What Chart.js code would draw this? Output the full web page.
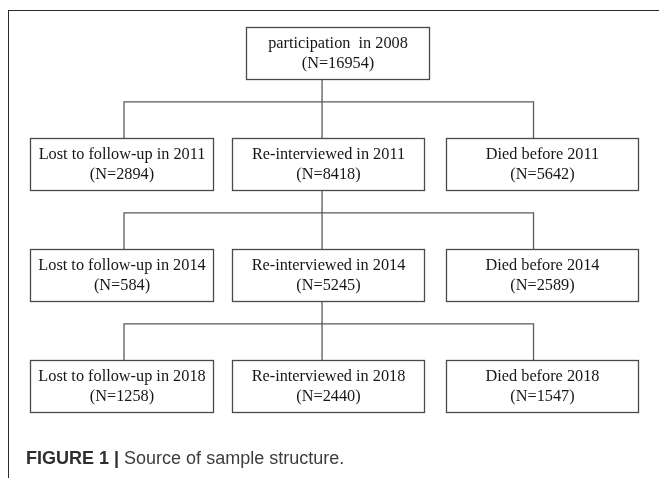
<!DOCTYPE html>
<html>
<head>
<meta charset="utf-8">
<script src="https://cdn.jsdelivr.net/npm/chart.js@4.4.1/dist/chart.umd.min.js"></script>
<style>
  html, body { margin: 0; padding: 0; background: #fff; }
  #wrap { position: relative; width: 659px; height: 478px; overflow: hidden; background: #fff; }
  #frame { position: absolute; left: 8px; top: 10px; width: 700px; height: 520px;
           border-left: 1.5px solid #2b2b2b; border-top: 1.5px solid #2b2b2b; box-sizing: border-box; }
  #c { position: absolute; left: 0; top: 0; }
  #caption { position: absolute; left: 26px; top: 449px; font-family: 'Liberation Sans', Arial, sans-serif;
             font-size: 18px; line-height: 18px; color: #3c3c3c; white-space: nowrap; }
  #caption b { color: #2e2e2e; }
</style>
</head>
<body>
<div id="wrap">
  <div id="frame"></div>
  <canvas id="c" width="659" height="478"></canvas>
  <div id="caption"><b>FIGURE 1</b> <b>|</b> Source of sample structure.</div>
</div>
<script>
// ---- data ----
const waves = ['2008', '2011', '2014', '2018'];
const reinterviewedN = [16954, 8418, 5245, 2440];
const lostN = [null, 2894, 584, 1258];
const diedN = [null, 5642, 2589, 1547];
const topLabel = 'participation  in 2008';
const lostLabel = 'Lost to follow-up in ';
const reLabel = 'Re-interviewed in ';
const diedLabel = 'Died before ';

// ---- layout (grid units: column 0..2, level 0..3) ----
const colShape = [ {shift: 0, half: 0.436}, {shift: -0.0167, half: 0.457}, {shift: 0.002, half: 0.457} ];
const topShape = {shift: 0.0286, half: 0.438};
const boxHalfH = 0.232;
const trunkX = 0.955, leftDropX = 0.012, rightDropX = 1.962, busOffset = 0.44;

// build boxes from data
const boxes = [];
boxes.push({col: 1, level: 0, shape: topShape, lines: [topLabel, '(N=' + reinterviewedN[0] + ')']});
for (let l = 1; l < waves.length; l++) {
  boxes.push({col: 0, level: l, shape: colShape[0], lines: [lostLabel + waves[l], '(N=' + lostN[l] + ')']});
  boxes.push({col: 1, level: l, shape: colShape[1], lines: [reLabel + waves[l], '(N=' + reinterviewedN[l] + ')']});
  boxes.push({col: 2, level: l, shape: colShape[2], lines: [diedLabel + waves[l], '(N=' + diedN[l] + ')']});
}

// connectors as line datasets
const lineStyle = {showLine: true, borderColor: '#5a5a5a', borderWidth: 1.3, pointRadius: 0, fill: false, tension: 0};
const datasets = [];
for (let l = 0; l < waves.length - 1; l++) {
  datasets.push(Object.assign({data: [{x: trunkX, y: l + boxHalfH}, {x: trunkX, y: l + 1 - boxHalfH}]}, lineStyle));
  datasets.push(Object.assign({data: [
    {x: leftDropX, y: l + 1 - boxHalfH}, {x: leftDropX, y: l + busOffset},
    {x: rightDropX, y: l + busOffset}, {x: rightDropX, y: l + 1 - boxHalfH}]}, lineStyle));
}

const boxPlugin = {
  id: 'boxes',
  afterDatasetsDraw(chart) {
    const {ctx, scales: {x, y}} = chart;
    ctx.save();
    boxes.forEach(b => {
      const cx = b.col + b.shape.shift;
      const x0 = Math.round(x.getPixelForValue(cx - b.shape.half)) + 0.5;
      const x1 = Math.round(x.getPixelForValue(cx + b.shape.half)) + 0.5;
      const y0 = Math.round(y.getPixelForValue(b.level - boxHalfH)) + 0.5;
      const y1 = Math.round(y.getPixelForValue(b.level + boxHalfH)) + 0.5;
      ctx.fillStyle = '#ffffff';
      ctx.fillRect(x0, y0, x1 - x0, y1 - y0);
      ctx.strokeStyle = '#4a4a4a';
      ctx.lineWidth = 1.3;
      ctx.strokeRect(x0, y0, x1 - x0, y1 - y0);
      ctx.fillStyle = '#161616';
      ctx.font = "16.3px 'Liberation Serif', 'Times New Roman', serif";
      ctx.textAlign = 'center';
      ctx.textBaseline = 'middle';
      const mx = (x0 + x1) / 2, my = (y0 + y1) / 2;
      ctx.fillText(b.lines[0], mx, my - 10);
      ctx.fillText(b.lines[1], mx, my + 10);
    });
    ctx.restore();
  }
};

new Chart(document.getElementById('c'), {
  type: 'scatter',
  data: {datasets},
  options: {
    responsive: false,
    animation: false,
    events: [],
    layout: {padding: 0},
    plugins: {legend: {display: false}, tooltip: {enabled: false}, title: {display: false}},
    scales: {
      x: {type: 'linear', display: false, min: -0.5786, max: 2.5595},
      y: {type: 'linear', display: false, reverse: true, min: -0.4775, max: 3.8288}
    }
  },
  plugins: [boxPlugin]
});
</script>
</body>
</html>
